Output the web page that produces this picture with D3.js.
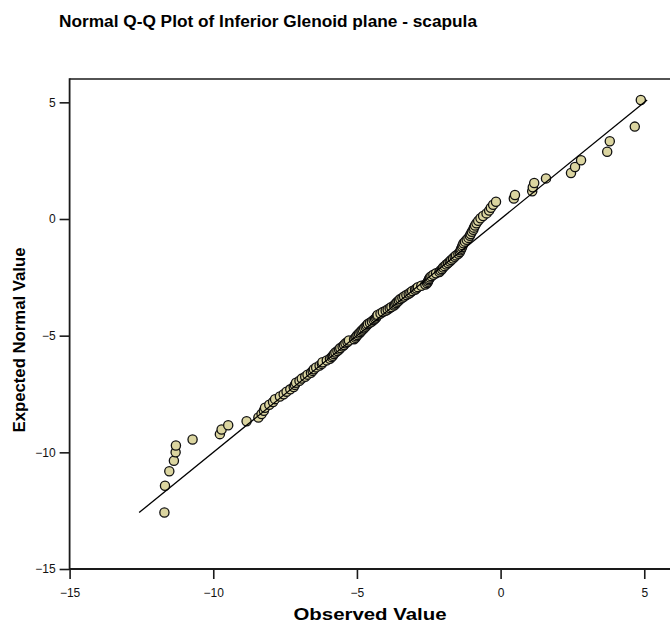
<!DOCTYPE html>
<html>
<head>
<meta charset="utf-8">
<script src="https://cdn.jsdelivr.net/npm/d3@7"></script>
<style>
  html, body { margin: 0; padding: 0; background: #fff; }
  svg { display: block; }
  text { font-family: Arial, "Liberation Sans", sans-serif; }
</style>
</head>
<body>
<svg id="chart" width="670" height="627"></svg>
<script>
// ---- data ----
const title = "Normal Q-Q Plot of Inferior Glenoid plane - scapula";
const xLabel = "Observed Value";
const yLabel = "Expected Normal Value";
const xTicks = [-15, -10, -5, 0, 5];
const yTicks = [5, 0, -5, -10, -15];

const observed = [
  -11.70, -11.68, -11.53, -11.37, -11.31, -11.30, -10.72, -9.77, -9.71, -9.48,
  -8.84, -8.43, -8.32, -8.24, -8.20, -8.05, -7.92, -7.85, -7.68, -7.55,
  -7.45, -7.32, -7.20, -7.16, -7.12, -7.00, -6.92, -6.80, -6.72, -6.60,
  -6.54, -6.50, -6.42, -6.30, -6.22, -6.20, -6.05, -5.94, -5.88, -5.84,
  -5.80, -5.75, -5.68, -5.62, -5.58, -5.50, -5.45, -5.40, -5.33, -5.28,
  -5.10, -5.05, -5.02, -4.98, -4.93, -4.88, -4.84, -4.80, -4.75, -4.70,
  -4.66, -4.62, -4.55, -4.48, -4.42, -4.37, -4.33, -4.30, -4.28, -4.18,
  -4.10, -4.00, -3.93, -3.86, -3.80, -3.71, -3.67, -3.63, -3.59, -3.54,
  -3.49, -3.42, -3.36, -3.28, -3.20, -3.14, -3.08, -2.98, -2.93, -2.88,
  -2.76, -2.62, -2.56, -2.53, -2.51, -2.49, -2.46, -2.41, -2.34, -2.25,
  -2.13, -2.09, -2.04, -2.00, -1.95, -1.89, -1.83, -1.77, -1.72, -1.66,
  -1.60, -1.55, -1.47, -1.42, -1.39, -1.37, -1.34, -1.32, -1.29, -1.24,
  -1.18, -1.12, -1.07, -1.04, -1.00, -0.95, -0.93, -0.89, -0.84, -0.78,
  -0.70, -0.61, -0.49, -0.40, -0.34, -0.26, -0.16, 0.46, 0.50, 1.10,
  1.12, 1.17, 1.58, 2.45, 2.59, 2.80, 3.71, 3.80, 4.67, 4.88
];

const expected = [
  -12.58, -11.43, -10.81, -10.36, -10.00, -9.71, -9.45, -9.22, -9.02, -8.84,
  -8.67, -8.51, -8.36, -8.22, -8.09, -7.96, -7.84, -7.72, -7.61, -7.51,
  -7.40, -7.30, -7.20, -7.11, -7.02, -6.93, -6.84, -6.76, -6.67, -6.59,
  -6.51, -6.44, -6.36, -6.28, -6.21, -6.14, -6.06, -5.99, -5.92, -5.86,
  -5.79, -5.72, -5.66, -5.59, -5.53, -5.46, -5.40, -5.33, -5.27, -5.21,
  -5.15, -5.09, -5.03, -4.97, -4.91, -4.85, -4.79, -4.74, -4.68, -4.62,
  -4.56, -4.50, -4.45, -4.39, -4.33, -4.28, -4.22, -4.16, -4.11, -4.05,
  -3.99, -3.93, -3.88, -3.82, -3.77, -3.71, -3.66, -3.60, -3.55, -3.49,
  -3.43, -3.38, -3.32, -3.26, -3.20, -3.15, -3.09, -3.03, -2.98, -2.92,
  -2.86, -2.81, -2.75, -2.69, -2.63, -2.57, -2.51, -2.45, -2.39, -2.33,
  -2.27, -2.21, -2.15, -2.08, -2.02, -1.95, -1.89, -1.82, -1.76, -1.69,
  -1.62, -1.56, -1.49, -1.42, -1.34, -1.27, -1.20, -1.12, -1.04, -0.97,
  -0.89, -0.81, -0.72, -0.64, -0.55, -0.46, -0.37, -0.28, -0.18, -0.08,
  0.03, 0.13, 0.24, 0.36, 0.48, 0.61, 0.74, 0.88, 1.03, 1.19,
  1.36, 1.54, 1.74, 1.97, 2.23, 2.52, 2.88, 3.33, 3.96, 5.10
];

const refLine = [-12.58, 5.10];

// ---- drawing ----
const svg = d3.select("#chart");
const x = d3.scaleLinear().domain([-15, 6]).range([69.6, 673]);
const y = d3.scaleLinear().domain([-15, 6]).range([569, 79]);
const axisColor = "#1a1a1a";

// title
svg.append("text")
  .attr("x", 59).attr("y", 27)
  .attr("font-size", 16).attr("font-weight", "bold")
  .attr("textLength", 418).attr("lengthAdjust", "spacingAndGlyphs")
  .attr("fill", "#000")
  .text(title);

// points
const pts = observed.map((v, i) => ({ o: v, e: expected[i] }));
svg.append("g").selectAll("circle").data(pts).join("circle")
  .attr("cx", d => x(d.o))
  .attr("cy", d => y(d.e))
  .attr("r", 4.6)
  .attr("fill", "#dbd5a0")
  .attr("stroke", "#111")
  .attr("stroke-width", 1.3);

// reference line
svg.append("line")
  .attr("x1", x(refLine[0])).attr("y1", y(refLine[0]))
  .attr("x2", x(refLine[1])).attr("y2", y(refLine[1]))
  .attr("stroke", "#000").attr("stroke-width", 1.3);

// frame: top line
svg.append("line")
  .attr("x1", x(-15)).attr("x2", 672)
  .attr("y1", y(6)).attr("y2", y(6))
  .attr("stroke", axisColor).attr("stroke-width", 1.6);

// x axis
const xAxis = d3.axisBottom(x).tickValues(xTicks).tickSize(10).tickSizeOuter(0).tickPadding(9)
  .tickFormat(d3.format("d"));
const gx = svg.append("g").attr("transform", `translate(0,${y(-15)})`).call(xAxis);
gx.select(".domain").remove();
gx.selectAll(".tick line").attr("stroke", axisColor).attr("stroke-width", 1.6);
gx.selectAll(".tick text").attr("font-size", 12).attr("fill", "#111")
  .attr("font-family", "Arial, 'Liberation Sans', sans-serif");
svg.append("line")
  .attr("x1", x(-15)).attr("x2", 672)
  .attr("y1", y(-15)).attr("y2", y(-15))
  .attr("stroke", axisColor).attr("stroke-width", 1.8);

// y axis
const yAxis = d3.axisLeft(y).tickValues(yTicks).tickSize(10).tickSizeOuter(0).tickPadding(4)
  .tickFormat(d3.format("d"));
const gy = svg.append("g").attr("transform", `translate(${x(-15)},0)`).call(yAxis);
gy.select(".domain").remove();
gy.selectAll(".tick line").attr("stroke", axisColor).attr("stroke-width", 1.6);
gy.selectAll(".tick text").attr("font-size", 12).attr("fill", "#111")
  .attr("font-family", "Arial, 'Liberation Sans', sans-serif");
svg.append("line")
  .attr("x1", x(-15)).attr("x2", x(-15))
  .attr("y1", y(6) - 0.8).attr("y2", y(-15) + 0.9)
  .attr("stroke", axisColor).attr("stroke-width", 1.8);

// axis titles
svg.append("text")
  .attr("x", 370).attr("y", 620)
  .attr("text-anchor", "middle")
  .attr("font-size", 16).attr("font-weight", "bold")
  .attr("textLength", 153).attr("lengthAdjust", "spacingAndGlyphs")
  .attr("fill", "#000")
  .text(xLabel);

svg.append("text")
  .attr("transform", "translate(25,340) rotate(-90)")
  .attr("text-anchor", "middle")
  .attr("font-size", 16).attr("font-weight", "bold")
  .attr("textLength", 185).attr("lengthAdjust", "spacingAndGlyphs")
  .attr("fill", "#000")
  .text(yLabel);
</script>
</body>
</html>
